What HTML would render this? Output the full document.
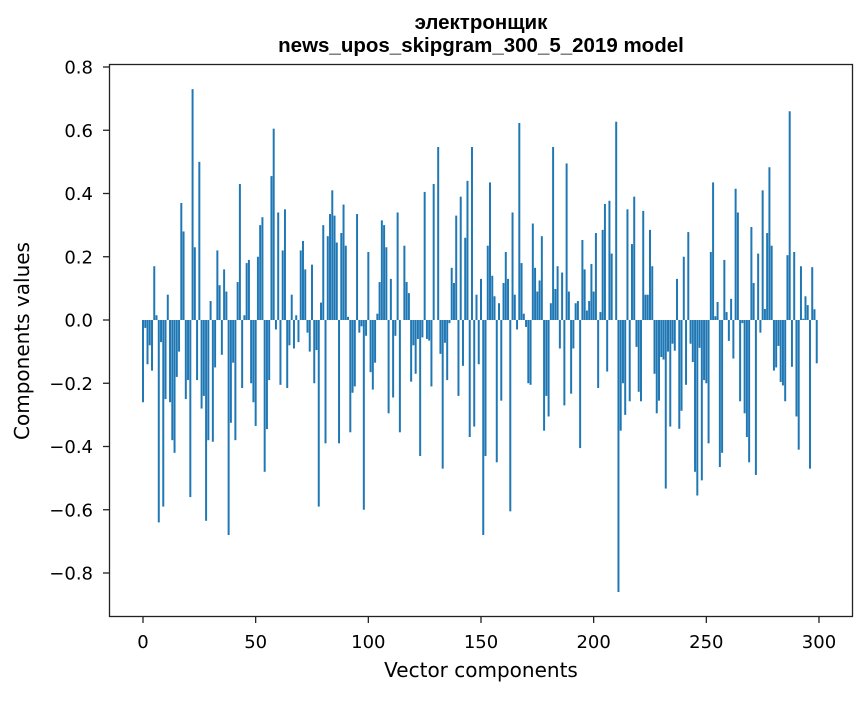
<!DOCTYPE html>
<html><head><meta charset="utf-8"><style>
body{margin:0;background:#fff}
svg text{font-family:"DejaVu Sans","Liberation Sans",sans-serif;fill:#000}
svg text.title{font-family:"Liberation Sans",sans-serif}
</style></head><body>
<svg id="chart" width="867" height="696" xmlns="http://www.w3.org/2000/svg">
<text class="title" x="481" y="29" font-size="20.5" font-weight="bold" text-anchor="middle">электронщик</text>
<text class="title" x="481" y="52" font-size="20.5" font-weight="bold" text-anchor="middle">news_upos_skipgram_300_5_2019 model</text>
<g id="bars"></g>
<g id="axes"></g>
<rect x="109.5" y="64.5" width="743" height="552" fill="none" stroke="#222" stroke-width="1.3"/>
<text x="481" y="677" font-size="20" text-anchor="middle">Vector components</text>
<text x="29" y="341" font-size="20" text-anchor="middle" transform="rotate(-90 29 341)">Components values</text>
</svg>
<script>
const values = [
-0.26,-0.025,-0.14,-0.08,-0.16,0.17,0.015,-0.64,-0.07,-0.59,
-0.25,0.08,-0.26,-0.38,-0.42,-0.18,-0.10,0.37,0.28,-0.25,
-0.19,-0.56,0.73,0.23,-0.19,0.50,-0.28,-0.24,-0.635,-0.38,
0.06,-0.385,-0.15,0.22,0.11,-0.11,0.16,0.09,-0.68,-0.325,
-0.135,-0.38,0.12,0.43,-0.215,0.015,0.18,0.19,-0.20,-0.26,
-0.335,0.20,0.30,0.325,-0.48,-0.345,-0.19,0.455,0.605,-0.03,
0.34,-0.205,0.22,0.35,-0.215,-0.08,0.08,-0.09,0.015,-0.07,
0.22,0.25,0.16,-0.04,-0.10,0.175,-0.20,-0.095,-0.59,0.055,
0.30,-0.39,0.265,0.335,0.41,0.33,0.245,-0.39,0.275,0.365,
0.235,0.01,-0.355,-0.23,-0.21,0.335,-0.04,-0.02,-0.60,-0.05,
0.215,-0.165,-0.22,-0.135,0.02,0.12,0.315,0.30,0.23,-0.295,
0.13,-0.245,-0.05,0.34,-0.355,0.0,0.235,0.12,0.085,-0.195,
-0.08,-0.17,-0.06,-0.43,-0.055,0.405,-0.06,-0.065,-0.21,0.43,
0.0,0.547,-0.107,-0.47,-0.072,-0.19,-0.01,0.165,0.117,0.33,
-0.24,0.39,-0.145,0.26,0.44,-0.37,0.547,-0.337,0.08,-0.14,
0.13,-0.68,-0.43,0.235,0.435,0.14,0.075,-0.45,0.053,-0.255,
0.117,0.215,0.13,-0.605,0.34,0.08,-0.03,0.623,0.18,0.02,
-0.022,-0.20,-0.205,0.305,0.165,0.09,0.125,0.265,-0.35,-0.24,
-0.305,0.053,0.547,0.098,0.17,-0.09,0.15,-0.27,0.495,0.09,
-0.233,-0.09,0.053,0.06,-0.405,0.253,0.16,0.03,0.06,0.177,
0.09,0.275,-0.215,0.025,0.285,0.367,-0.163,0.377,0.21,0.0,
0.627,-0.86,-0.35,-0.20,-0.30,0.35,-0.257,0.24,0.39,-0.085,
-0.227,-0.257,0.345,0.08,0.08,0.285,0.17,-0.17,-0.295,-0.255,
-0.117,-0.125,-0.533,-0.10,-0.337,-0.075,-0.097,0.13,-0.344,-0.287,
0.20,-0.205,0.278,-0.075,-0.133,-0.48,-0.555,-0.088,-0.507,-0.19,
-0.20,-0.39,0.215,0.435,0.012,0.057,-0.465,-0.42,0.19,0.025,
-0.066,0.067,-0.122,0.415,0.34,-0.257,-0.01,-0.295,-0.37,-0.45,
0.294,0.117,-0.49,0.21,-0.04,0.41,0.035,0.275,0.483,0.235,
-0.16,-0.15,-0.082,-0.196,-0.207,-0.257,0.205,0.66,-0.148,0.215,
-0.305,-0.41,0.17,0.004,0.075,0.047,-0.47,0.167,0.034,-0.137
];
const xTicks = [0,50,100,150,200,250,300];
const yTicks = [-0.8,-0.6,-0.4,-0.2,0.0,0.2,0.4,0.6,0.8];
const yTickLabels = ["−0.8","−0.6","−0.4","−0.2","0.0","0.2","0.4","0.6","0.8"];

const NS = "http://www.w3.org/2000/svg";
const xs = v => 143 + v * 2.2533;
const ys = v => 320 - v * 316.25;
const bars = document.getElementById('bars');
const axes = document.getElementById('axes');
values.forEach((v, i) => {
  const r = document.createElementNS(NS, 'rect');
  const y0 = ys(0), y1 = ys(v);
  r.setAttribute('x', xs(i) - 0.44 * 2.2533);
  r.setAttribute('width', 0.88 * 2.2533);
  r.setAttribute('y', Math.min(y0, y1));
  r.setAttribute('height', Math.max(Math.abs(y1 - y0), 0.01));
  r.setAttribute('fill', '#1f77b4');
  
  
  bars.appendChild(r);
});
xTicks.forEach(t => {
  const l = document.createElementNS(NS, 'line');
  l.setAttribute('x1', xs(t)); l.setAttribute('x2', xs(t));
  l.setAttribute('y1', 617); l.setAttribute('y2', 623);
  l.setAttribute('stroke', '#222'); l.setAttribute('stroke-width', '1.3');
  
  
  axes.appendChild(l);
  const tx = document.createElementNS(NS, 'text');
  tx.setAttribute('x', xs(t)); tx.setAttribute('y', 648);
  tx.setAttribute('font-size', '18'); tx.setAttribute('text-anchor', 'middle');
  tx.textContent = t;
  
  
  axes.appendChild(tx);
});
yTicks.forEach((t, k) => {
  const l = document.createElementNS(NS, 'line');
  l.setAttribute('x1', 103); l.setAttribute('x2', 109);
  l.setAttribute('y1', ys(t)); l.setAttribute('y2', ys(t));
  l.setAttribute('stroke', '#222'); l.setAttribute('stroke-width', '1.3');
  
  
  axes.appendChild(l);
  const tx = document.createElementNS(NS, 'text');
  tx.setAttribute('x', 93); tx.setAttribute('y', ys(t) + 6.5);
  tx.setAttribute('font-size', '18'); tx.setAttribute('text-anchor', 'end');
  tx.textContent = yTickLabels[k];
  
  
  axes.appendChild(tx);
});
</script>
</body></html>
